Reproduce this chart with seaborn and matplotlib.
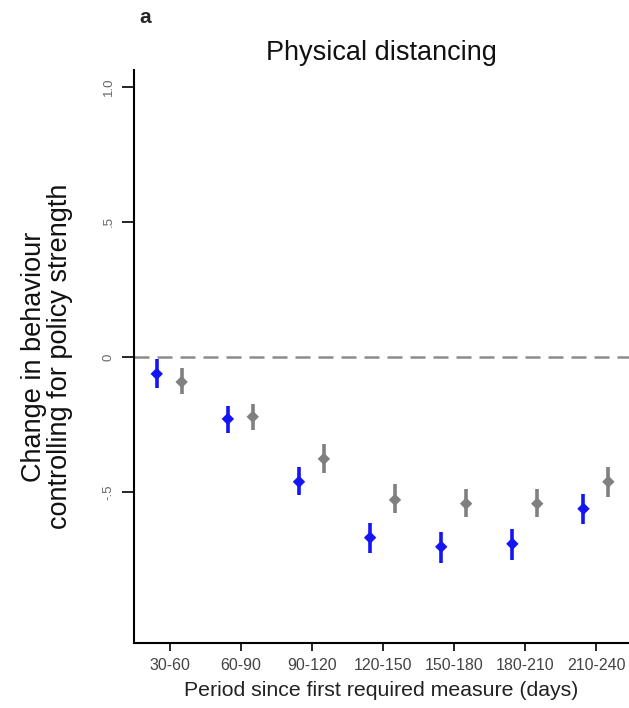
import matplotlib
matplotlib.use("Agg")
import matplotlib.pyplot as plt
import seaborn as sns
import numpy as np
import pandas as pd

# periods since first required measure
periods = ["30-60", "60-90", "90-120", "120-150", "150-180", "180-210", "210-240"]

# blue series (estimate with CI)
blue_est = [-0.063, -0.230, -0.463, -0.670, -0.704, -0.693, -0.563]
blue_lo = [-0.115, -0.281, -0.511, -0.726, -0.763, -0.752, -0.619]
blue_hi = [-0.007, -0.181, -0.407, -0.615, -0.648, -0.637, -0.507]

# grey series (estimate with CI)
grey_est = [-0.093, -0.222, -0.378, -0.530, -0.544, -0.544, -0.463]
grey_lo = [-0.137, -0.270, -0.430, -0.578, -0.593, -0.593, -0.519]
grey_hi = [-0.041, -0.174, -0.322, -0.470, -0.489, -0.489, -0.407]

yticks = [-0.5, 0, 0.5, 1.0]
ytick_labels = ["-.5", "0", ".5", "1.0"]

sns.set_style("white")
plt.rcParams['font.family'] = ['Liberation Sans', 'DejaVu Sans']

df = pd.DataFrame({
    "pos": np.concatenate([np.arange(len(periods)) - 0.18, np.arange(len(periods)) + 0.17]),
    "est": blue_est + grey_est,
    "lo": blue_lo + grey_lo,
    "hi": blue_hi + grey_hi,
    "group": ["blue"] * len(periods) + ["grey"] * len(periods),
})
colors = {"blue": "#1414f5", "grey": "#808080"}

fig = plt.figure(figsize=(6.29, 7.08), dpi=100)
ax = fig.add_axes([0.213, 0.092, 0.787, 0.809])

# zero reference line
ax.axhline(0, color="#8c8c8c", lw=1.8, ls=(0, (6, 3.2)), zorder=1)

for g, sub in df.groupby("group"):
    ax.vlines(sub["pos"], sub["lo"], sub["hi"], color=colors[g], lw=2.6, zorder=2)

sns.scatterplot(data=df, x="pos", y="est", hue="group", palette=colors,
                marker="D", s=40, edgecolor="none", legend=False, ax=ax, zorder=3)

ax.set_xlim(-0.5, 6.46)
ax.set_ylim(-1.06, 1.063)
ax.set_xticks(range(len(periods)))
ax.set_xticklabels(periods, fontsize=11.5, color="#444444")
ax.set_yticks(yticks)
ax.set_yticklabels(ytick_labels, fontsize=9.5, color="#666666", rotation=90, va="center")
ax.tick_params(axis="both", direction="out", length=6, width=1.2, color="black",
               bottom=True, left=True)
ax.tick_params(axis="x", pad=5)
ax.tick_params(axis="y", length=9, pad=5)

for side in ["top", "right"]:
    ax.spines[side].set_visible(False)
for side in ["left", "bottom"]:
    ax.spines[side].set_color("black")
    ax.spines[side].set_linewidth(1.5)

ax.set_xlabel("Period since first required measure (days)", fontsize=15.3, color="#222222", labelpad=6)
ax.set_ylabel("Change in behaviour\ncontrolling for policy strength", fontsize=19.5, color="#111111",
              labelpad=21, linespacing=1.0)
ax.set_title("Physical distancing", fontsize=19.5, color="#111111", pad=7)

fig.text(0.222, 0.975, "a", fontsize=15, fontweight="bold", va="center")

fig.savefig("out.png", dpi=100)
